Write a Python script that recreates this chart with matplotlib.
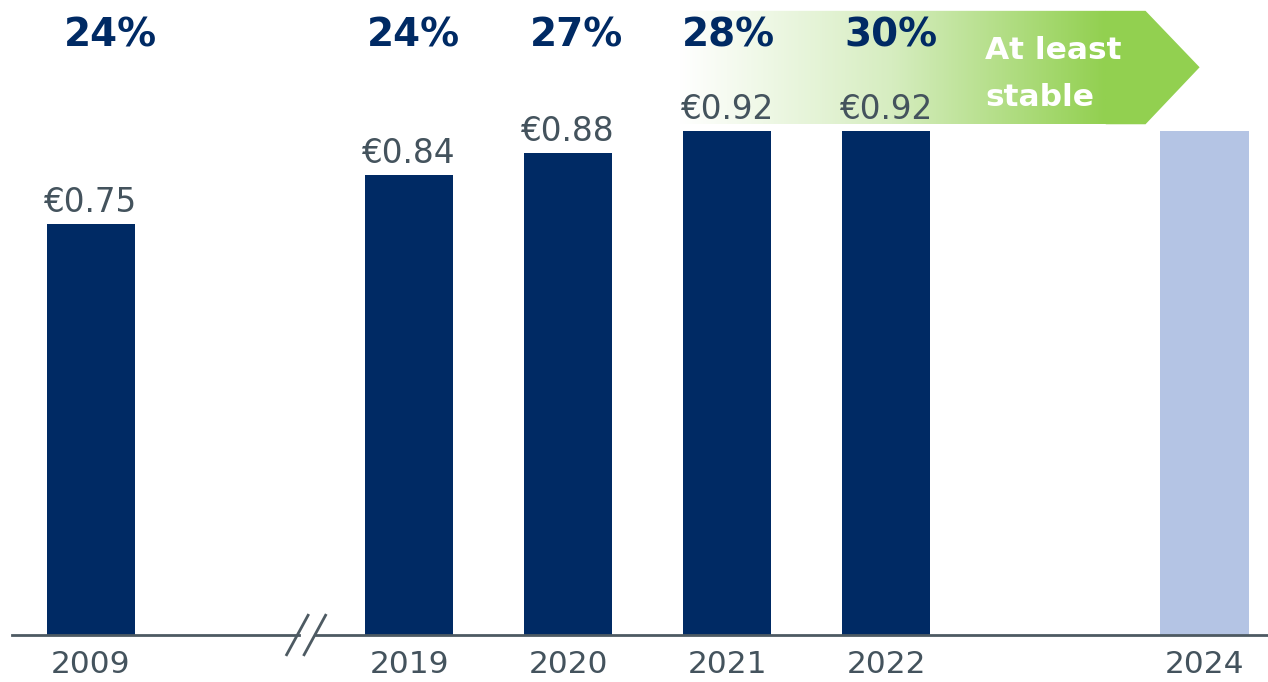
import numpy as np
import matplotlib
from matplotlib import pyplot as plt
from matplotlib.patches import Polygon
from matplotlib.colors import LinearSegmentedColormap

plt.rcParams['font.family'] = ['DejaVu Sans']

# data
years = ["2009", "2019", "2020", "2021", "2022", "2024"]
pos = [0, 2, 3, 4, 5, 7]
dividend = [0.75, 0.84, 0.88, 0.92, 0.92, 0.92]
value_labels = ["€0.75", "€0.84", "€0.88", "€0.92", "€0.92", ""]
payout = ["24%", "24%", "27%", "28%", "30%"]
payout_x = [0.12, 2.03, 3.05, 4.01, 5.03]

navy = "#002A64"
light = "#B4C4E4"
grey_txt = "#44535D"
axis_col = "#4D5A62"

fig = plt.figure(figsize=(12.68, 6.82), dpi=100)
ax = fig.add_axes([0, 47 / 682, 1, 635 / 682])

colors = [navy] * 5 + [light]
ax.bar(pos, dividend, width=0.555, color=colors, zorder=3)

ax.set_xlim(-0.572, 7.40)
ax.set_ylim(0, 635 / 548)

# value labels
for x, v, lab in zip(pos, dividend, value_labels):
    if lab:
        ax.text(x, v + 0.009, lab, ha='center', va='bottom', fontsize=23.5,
                color=grey_txt, zorder=5)

# payout ratios
for x, p in zip(payout_x, payout):
    ax.text(x, 1.094, p, ha='center', va='center', fontsize=28,
            fontweight='bold', color=navy, zorder=5)

# gradient arrow
x0, xh, xt = 3.70, 6.63, 6.97
y0, y1, ym = 0.932, 1.139, 1.036
arrow = Polygon([[x0, y0], [xh, y0], [xt, ym], [xh, y1], [x0, y1]],
                closed=True, facecolor='none', edgecolor='none')
ax.add_patch(arrow)
cmap = LinearSegmentedColormap.from_list('g', ["#FFFFFF", "#D6EDC0", "#92D050"])
grad = np.linspace(0, 1, 256).reshape(1, -1)
im = ax.imshow(grad, cmap=cmap, extent=[x0, xh - 0.25, y0, y1], aspect='auto',
               zorder=1, interpolation='bilinear')
im.set_clip_path(arrow)
ax.add_patch(Polygon([[xh - 0.25, y0], [xh, y0], [xt, ym], [xh, y1], [xh - 0.25, y1]],
                     closed=True, facecolor="#92D050", edgecolor='none', zorder=1))
ax.text(5.62, ym - 0.012, "At least\nstable", ha='left', va='center', fontsize=22.5,
        fontweight='bold', color='white', linespacing=1.8, zorder=5)

# axis line with break
ax.plot([-0.497, 1.305], [0, 0], color=axis_col, lw=2, zorder=4, clip_on=False)
ax.plot([1.415, 7.40], [0, 0], color=axis_col, lw=2, zorder=4, clip_on=False)
for dx in [0, 0.11]:
    ax.plot([1.23 + dx, 1.365 + dx], [-0.036, 0.036], color=axis_col, lw=2,
            zorder=4, clip_on=False)

ax.set_xticks(pos)
ax.set_xticklabels(years, fontsize=22.5, color=grey_txt)
ax.tick_params(axis='x', length=0, pad=11)
ax.set_yticks([])
for s in ax.spines.values():
    s.set_visible(False)

plt.savefig('out.png', dpi=100)
